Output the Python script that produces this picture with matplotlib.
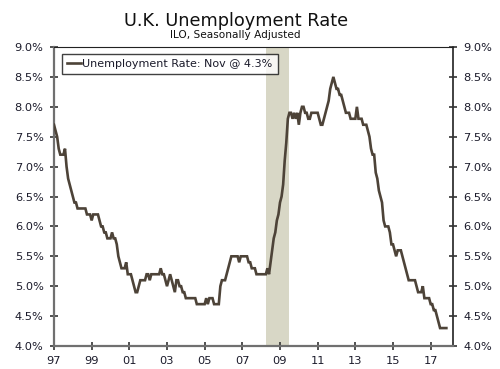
import matplotlib
matplotlib.use("Agg")
import matplotlib.pyplot as plt
from matplotlib.ticker import FuncFormatter, FixedLocator
import numpy as np

# Monthly UK ILO unemployment rate (%), Jan 1997 .. Nov 2017
r1997 = [7.7, 7.6, 7.5, 7.3, 7.2, 7.2, 7.2, 7.3, 7.0, 6.8, 6.7, 6.6]
r1998 = [6.5, 6.4, 6.4, 6.3, 6.3, 6.3, 6.3, 6.3, 6.3, 6.2, 6.2, 6.2]
r1999 = [6.1, 6.2, 6.2, 6.2, 6.2, 6.1, 6.0, 6.0, 5.9, 5.9, 5.8, 5.8]
r2000 = [5.8, 5.9, 5.8, 5.8, 5.7, 5.5, 5.4, 5.3, 5.3, 5.3, 5.4, 5.2]
r2001 = [5.2, 5.2, 5.1, 5.0, 4.9, 4.9, 5.0, 5.1, 5.1, 5.1, 5.1, 5.2]
r2002 = [5.2, 5.1, 5.2, 5.2, 5.2, 5.2, 5.2, 5.2, 5.3, 5.2, 5.2, 5.1]
r2003 = [5.0, 5.1, 5.2, 5.1, 5.0, 4.9, 5.1, 5.1, 5.0, 5.0, 4.9, 4.9]
r2004 = [4.8, 4.8, 4.8, 4.8, 4.8, 4.8, 4.8, 4.7, 4.7, 4.7, 4.7, 4.7]
r2005 = [4.7, 4.8, 4.7, 4.8, 4.8, 4.8, 4.7, 4.7, 4.7, 4.7, 5.0, 5.1]
r2006 = [5.1, 5.1, 5.2, 5.3, 5.4, 5.5, 5.5, 5.5, 5.5, 5.5, 5.4, 5.5]
r2007 = [5.5, 5.5, 5.5, 5.5, 5.4, 5.4, 5.3, 5.3, 5.3, 5.2, 5.2, 5.2]
r2008 = [5.2, 5.2, 5.2, 5.2, 5.3, 5.2, 5.4, 5.6, 5.8, 5.9, 6.1, 6.2]
r2009 = [6.4, 6.5, 6.7, 7.1, 7.4, 7.8, 7.9, 7.9, 7.8, 7.9, 7.8, 7.9]
r2010 = [7.7, 7.9, 8.0, 8.0, 7.9, 7.9, 7.8, 7.8, 7.9, 7.9, 7.9, 7.9]
r2011 = [7.9, 7.8, 7.7, 7.7, 7.8, 7.9, 8.0, 8.1, 8.3, 8.4, 8.5, 8.4]
r2012 = [8.3, 8.3, 8.2, 8.2, 8.1, 8.0, 7.9, 7.9, 7.9, 7.8, 7.8, 7.8]
r2013 = [7.8, 8.0, 7.8, 7.8, 7.8, 7.7, 7.7, 7.7, 7.6, 7.5, 7.3, 7.2]
r2014 = [7.2, 6.9, 6.8, 6.6, 6.5, 6.4, 6.1, 6.0, 6.0, 6.0, 5.9, 5.7]
r2015 = [5.7, 5.6, 5.5, 5.6, 5.6, 5.6, 5.5, 5.4, 5.3, 5.2, 5.1, 5.1]
r2016 = [5.1, 5.1, 5.1, 5.0, 4.9, 4.9, 4.9, 5.0, 4.8, 4.8, 4.8, 4.8]
r2017 = [4.7, 4.7, 4.6, 4.6, 4.5, 4.4, 4.3, 4.3, 4.3, 4.3, 4.3]

start_year = 1997
recession = (2008.25, 2009.5)
y_ticks = [4.0, 4.5, 5.0, 5.5, 6.0, 6.5, 7.0, 7.5, 8.0, 8.5, 9.0]
x_tick_years = [1997, 1999, 2001, 2003, 2005, 2007, 2009, 2011, 2013, 2015, 2017]
x_tick_labels = ["97", "99", "01", "03", "05", "07", "09", "11", "13", "15", "17"]
title = "U.K. Unemployment Rate"
subtitle = "ILO, Seasonally Adjusted"
legend_label = "Unemployment Rate: Nov @ 4.3%"

rates = (r1997 + r1998 + r1999 + r2000 + r2001 + r2002 + r2003 + r2004 + r2005
         + r2006 + r2007 + r2008 + r2009 + r2010 + r2011 + r2012 + r2013
         + r2014 + r2015 + r2016 + r2017)
dates = start_year + np.arange(len(rates)) / 12.0

plt.rcParams['font.family'] = ['DejaVu Sans']
fig = plt.figure(figsize=(5.0, 3.69), dpi=100)
ax = fig.add_axes([0.108, 0.0623, 0.7974, 0.8103])

ax.axvspan(recession[0], recession[1], color='#d8d7c6', lw=0, zorder=1)
ax.plot(dates, rates, color='#4d4338', lw=1.9, solid_joinstyle='miter', zorder=3,
        label=legend_label)

ax.set_xlim(1997.0, 2018.17)
ax.set_ylim(4.0, 9.0)
ax.yaxis.set_major_locator(FixedLocator(y_ticks))
ax.yaxis.set_major_formatter(FuncFormatter(lambda v, p: f"{v:.1f}%"))
ax.set_xticks(x_tick_years)
ax.set_xticklabels(x_tick_labels)

ax.tick_params(axis='y', which='both', direction='inout', length=5.5, width=1.2,
               color='#333333', labelsize=8.2, labelcolor='#1a1a2a', pad=4.8,
               left=True, right=True, labelleft=True, labelright=True)
ax.tick_params(axis='x', direction='inout', length=5.5, width=1.2, color='#333333',
               labelsize=8.2, labelcolor='#1a1a2a', pad=4.8)

for s in ['left', 'bottom']:
    ax.spines[s].set_color('#707070')
    ax.spines[s].set_linewidth(1.6)
ax.spines['right'].set_color('#333333')
ax.spines['right'].set_linewidth(1.3)
ax.spines['top'].set_color('#222222')
ax.spines['top'].set_linewidth(0.8)

leg = ax.legend(loc='upper left', bbox_to_anchor=(0.0193, 0.9766), borderaxespad=0,
                fontsize=8, frameon=True, fancybox=False, handlelength=1.3,
                handletextpad=0.1, borderpad=0.45)
leg.get_frame().set_edgecolor('#111111')
leg.get_frame().set_linewidth(1.0)
for t in leg.get_texts():
    t.set_color('#1a1a2a')

fig.text(0.472, 1 - 25.5 / 369, title, ha='center', va='baseline', fontsize=12.8,
         color='#111111')
fig.text(0.47, 1 - 37.5 / 369, subtitle, ha='center', va='baseline', fontsize=7.6,
         color='#111111')

fig.savefig('out.png', dpi=100)
